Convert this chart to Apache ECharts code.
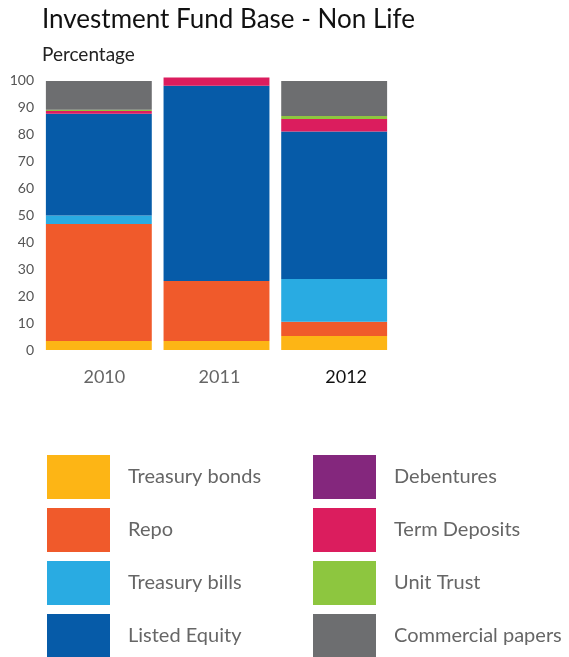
<!DOCTYPE html>
<html lang="en">
<head>
<meta charset="UTF-8">
<title>Investment Fund Base - Non Life</title>
<style>
html, body { margin: 0; padding: 0; background: #fff; }
#chart { width: 569px; height: 657px; }
</style>
</head>
<body>
<div id="chart"></div>
<script src="https://cdn.jsdelivr.net/npm/echarts@6/dist/echarts.min.js"></script>
<script>
var years = ['2010', '2011', '2012'];
var yTicks = [0, 10, 20, 30, 40, 50, 60, 70, 80, 90, 100];

var treasuryBonds = [3.3, 3.3, 5.2];
var repo = [43.4, 22.3, 5.3];
var treasuryBills = [3.1, 0, 15.8];
var listedEquity = [37.7, 72.3, 54.6];
var debentures = [0, 0, 0];
var termDeposits = [1.0, 3.0, 4.7];
var unitTrust = [0.5, 0, 1.1];
var commercialPapers = [10.6, 0, 12.9];

var seriesNames = ['Treasury bonds', 'Repo', 'Treasury bills', 'Listed Equity',
    'Debentures', 'Term Deposits', 'Unit Trust', 'Commercial papers'];
var seriesData = [treasuryBonds, repo, treasuryBills, listedEquity,
    debentures, termDeposits, unitTrust, commercialPapers];
var colors = ['#FDB515', '#F05A2B', '#29ABE2', '#065BA8',
    '#84277D', '#DB1D5E', '#8DC63F', '#6D6E70'];

var font = 'Lato, "Open Sans", sans-serif';
var chart = echarts.init(document.getElementById('chart'));

var series = seriesNames.map(function (name, i) {
    return {
        name: name,
        type: 'bar',
        stack: 'total',
        clip: false,
        barCategoryGap: '10%',
        itemStyle: { color: colors[i] },
        data: seriesData[i]
    };
});

function legendBlock(names, left) {
    return {
        data: names,
        orient: 'vertical',
        left: left,
        top: 455,
        height: 300,
        padding: 0,
        icon: 'rect',
        itemWidth: 63,
        itemHeight: 44,
        itemGap: 9,
        selectedMode: false,
        textStyle: {
            fontFamily: font,
            fontSize: 20,
            color: '#666',
            padding: [0, 0, 0, 13]
        }
    };
}

chart.setOption({
    animation: false,
    color: colors,
    title: [
        {
            text: 'Investment Fund Base - Non Life',
            left: 42,
            top: 7,
            padding: 0,
            textStyle: { fontFamily: font, fontSize: 26, fontWeight: 'normal', color: '#111' }
        },
        {
            text: 'Percentage',
            left: 42,
            top: 45,
            padding: 0,
            textStyle: { fontFamily: font, fontSize: 19, fontWeight: 'normal', color: '#222' }
        }
    ],
    legend: [
        legendBlock(seriesNames.slice(0, 4), 47),
        legendBlock(seriesNames.slice(4), 313)
    ],
    grid: { left: 40, top: 80, width: 353, height: 270 },
    xAxis: {
        type: 'category',
        data: years,
        axisLine: { show: false },
        axisTick: { show: false },
        axisLabel: {
            margin: 18,
            formatter: function (v, i) { return '{y' + i + '|' + v + '}'; },
            rich: {
                y0: { fontFamily: font, fontSize: 18, color: '#666', padding: [0, 0, 0, 11] },
                y1: { fontFamily: font, fontSize: 18, color: '#666', padding: [0, 0, 0, 6] },
                y2: { fontFamily: font, fontSize: 18, color: '#111', padding: [0, 0, 0, 24] }
            }
        }
    },
    yAxis: {
        type: 'value',
        min: yTicks[0],
        max: yTicks[yTicks.length - 1],
        interval: yTicks[1] - yTicks[0],
        splitLine: { show: false },
        axisLine: { show: false },
        axisTick: { show: false },
        axisLabel: { margin: 6, fontFamily: font, fontSize: 14, color: '#555' }
    },
    series: series
});
</script>
</body>
</html>
